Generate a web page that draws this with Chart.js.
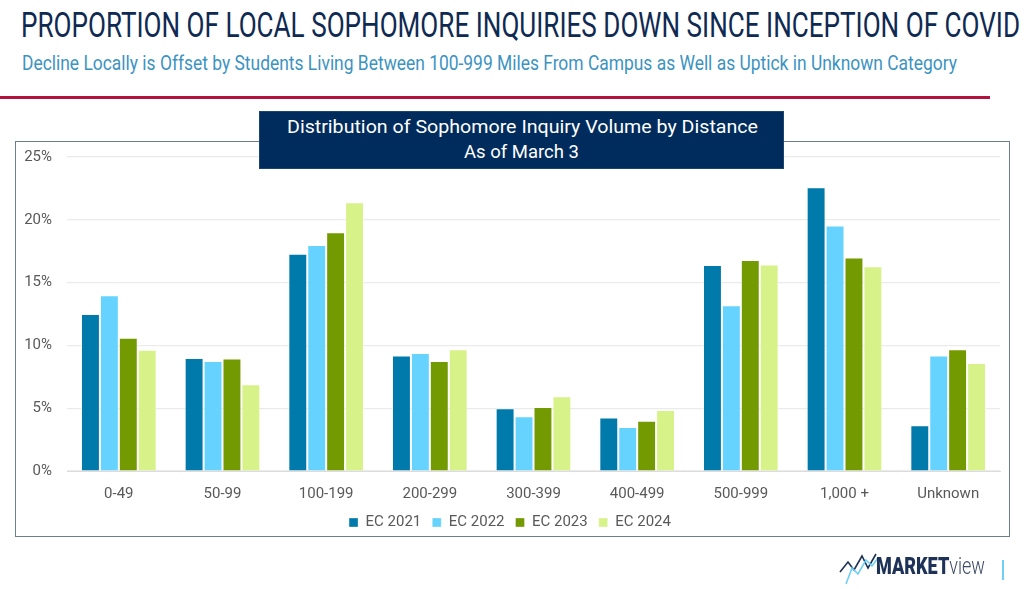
<!DOCTYPE html>
<html>
<head>
<meta charset="utf-8">
<script src="https://cdn.jsdelivr.net/npm/chart.js@4.4.1/dist/chart.umd.min.js"></script>
<style>
  html, body { margin:0; padding:0; background:#fff; width:1024px; height:589px; overflow:hidden; font-family: Roboto, "Noto Sans", sans-serif; }
  .abs { position:absolute; white-space:nowrap; }
  #title { left:21px; top:6px; font-size:35px; color:#0f2a52; line-height:40px; transform-origin:left center; }
  #subtitle { left:22px; top:50px; font-size:20px; color:#3c93c2; line-height:26px; transform-origin:left center; }
  #redline { left:0; top:96px; width:990px; height:3px; background:#b3123f; }
  #box { left:15px; top:141px; width:995px; height:396px; border:1.5px solid #6a7e94; box-sizing:border-box; }
  #chartwrap { left:0; top:0; width:1024px; height:589px; }
  #tbox { left:259px; top:111px; width:525px; height:58px; background:#002c5d; border:1px solid #1b4373; box-sizing:border-box; }
  .tl { color:#fff; font-size:19px; line-height:22px; }
  #tl1 { left:287px; top:116px; transform-origin:left center; }
  #tl2 { left:464px; top:141px; transform-origin:left center; }
  #logo { left:876px; top:551px; font-size:24px; color:#1e3157; line-height:30px; transform-origin:left center; }
  #logo b { font-weight:900; }
  #logo span { font-weight:300; color:#3c4a66; }
  #vbar { left:1002px; top:560px; width:2px; height:20px; background:#6fd0f5; }
</style>
</head>
<body>
<div class="abs" id="title" data-w="999">PROPORTION OF LOCAL SOPHOMORE INQUIRIES DOWN SINCE INCEPTION OF COVID</div>
<div class="abs" id="subtitle" data-w="935">Decline Locally is Offset by Students Living Between 100-999 Miles From Campus as Well as Uptick in Unknown Category</div>
<div class="abs" id="redline"></div>
<div class="abs" id="box"></div>
<div class="abs" id="chartwrap"><canvas id="c" width="1024" height="589"></canvas></div>
<div class="abs" id="tbox"></div>
<div class="abs tl" id="tl1" data-w="471">Distribution of Sophomore Inquiry Volume by Distance</div>
<div class="abs tl" id="tl2" data-w="115">As of March 3</div>
<svg class="abs" style="left:838px;top:546px" width="40" height="40" viewBox="0 0 40 40">
  <polyline points="2,26 10,16 16,24 24,10 30,22 38,8" fill="none" stroke="#1e3157" stroke-width="1.6"/>
  <polyline points="8,38 14,22 20,28 28,14 34,20 40,12" fill="none" stroke="#6fd0f5" stroke-width="1.6"/>
</svg>
<div class="abs" id="logo" data-w="109"><b>MARKET</b><span>view</span></div>
<div class="abs" id="vbar"></div>

<script>
const categories = ["0-49","50-99","100-199","200-299","300-399","400-499","500-999","1,000 +","Unknown"];
const seriesNames = ["EC 2021","EC 2022","EC 2023","EC 2024"];
const ec2021 = [12.5, 9.0, 17.3, 9.2, 5.0, 4.25, 16.4, 22.6, 3.65];
const ec2022 = [14.0, 8.75, 18.0, 9.4, 4.35, 3.5, 13.2, 19.55, 9.2];
const ec2023 = [10.6, 8.95, 19.0, 8.75, 5.1, 4.0, 16.8, 17.0, 9.7];
const ec2024 = [9.65, 6.9, 21.4, 9.7, 5.95, 4.85, 16.45, 16.3, 8.6];
const yTicks = [0, 5, 10, 15, 20, 25];
const colors = ["#0079ab", "#66d3ff", "#739a00", "#d8f28a"];

document.querySelectorAll('[data-w]').forEach(el => {
  const w = el.getBoundingClientRect().width;
  const target = parseFloat(el.dataset.w);
  el.style.transform = 'scaleX(' + (target / w) + ')';
});

const seriesData = [ec2021, ec2022, ec2023, ec2024];
const tickFont = { family: 'Roboto, "Noto Sans", sans-serif', size: 15 };

new Chart(document.getElementById('c'), {
  type: 'bar',
  data: {
    labels: categories,
    datasets: seriesNames.map((n, i) => ({
      label: n,
      data: seriesData[i],
      backgroundColor: colors[i],
      borderColor: 'rgba(255,255,255,0.35)',
      borderWidth: 1,
      categoryPercentage: 0.73,
      barPercentage: 1.0
    }))
  },
  options: {
    responsive: false,
    animation: false,
    devicePixelRatio: 1,
    layout: { padding: { left: 20, right: 24, top: 157, bottom: 49 } },
    plugins: {
      legend: {
        position: 'bottom',
        labels: {
          boxWidth: 9, boxHeight: 9, padding: 11,
          color: '#595959',
          font: tickFont
        }
      },
      tooltip: { enabled: false }
    },
    scales: {
      x: {
        grid: { display: false },
        border: { color: '#dcdcdc', width: 1 },
        ticks: { color: '#595959', font: tickFont, padding: 6 },
        afterFit: s => { s.height = 33; }
      },
      y: {
        min: 0, max: 25,
        afterBuildTicks: s => { s.ticks = yTicks.map(v => ({ value: v })); },
        grid: { color: '#ebebeb', lineWidth: 1.2, drawTicks: false },
        border: { display: false },
        ticks: { color: '#595959', font: tickFont, padding: 15, callback: v => v + '%' },
        afterFit: s => { s.width = 47; }
      }
    }
  }
});
</script>
</body>
</html>
